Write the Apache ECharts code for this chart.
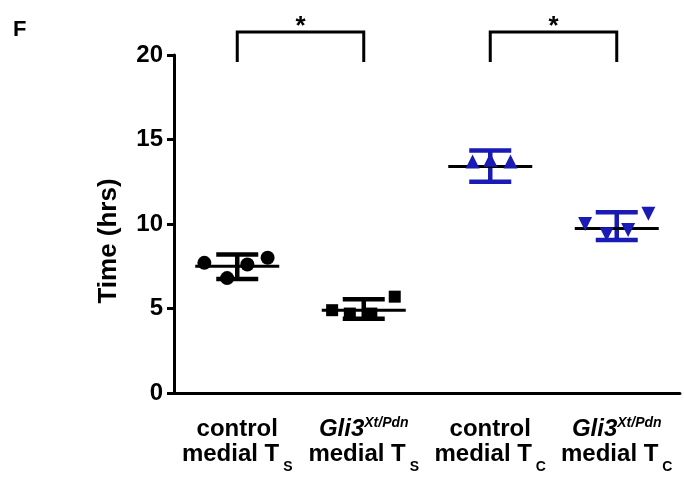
<!DOCTYPE html>
<html>
<head>
<meta charset="utf-8">
<script src="https://cdn.jsdelivr.net/npm/echarts@6/dist/echarts.min.js"></script>
<style>
  html, body { margin: 0; padding: 0; background: #fff; }
  #chart { width: 684px; height: 483px; }
</style>
</head>
<body>
<div id="chart"></div>
<script>
// groups on the x axis
const categories = ['control medial Ts', 'Gli3 medial Ts', 'control medial Tc', 'Gli3 medial Tc'];
const yTicks = [0, 5, 10, 15, 20];

const points = [
  [7.7, 6.8, 7.6, 8.0],
  [4.9, 4.7, 4.7, 5.7],
  [13.7, 13.8, 13.7],
  [10.0, 9.4, 9.65, 10.6]
];
// horizontal scatter of the dots inside each group (fraction of a category)
const jitter = [
  [-0.26, -0.08, 0.08, 0.24],
  [-0.25, -0.11, 0.06, 0.245],
  [-0.14, 0.0, 0.16],
  [-0.25, -0.08, 0.09, 0.25]
];
const means = [7.5, 4.9, 13.4, 9.73];
const errLow = [6.75, 4.4, 12.5, 9.05];
const errHigh = [8.2, 5.55, 14.35, 10.7];
// significance brackets: [from group, to group, label]
const brackets = [[0, 1, '*'], [2, 3, '*']];

const groupColors = ['#000000', '#000000', '#1a1ab4', '#1a1ab4'];
const symbols = ['circle', 'rect', 'triangle', 'triangle'];
const symbolRotate = [0, 0, 0, 180];
const symbolSizes = [14, 12, 14, 14];

const labelText = [
  '{b|control}\n{b|medial T}{sub|S}',
  '{i|Gli3}{sup|Xt/Pdn}\n{b|medial T}{sub|S}',
  '{b|control}\n{b|medial T}{sub|C}',
  '{i|Gli3}{sup|Xt/Pdn}\n{b|medial T}{sub|C}'
];

const font = 'Liberation Sans, Arial, sans-serif';
const chart = echarts.init(document.getElementById('chart'));

const scatterSeries = points.map((vals, g) => ({
  type: 'scatter',
  xAxisIndex: 1,
  symbol: symbols[g],
  symbolRotate: symbolRotate[g],
  symbolSize: symbolSizes[g],
  itemStyle: { color: groupColors[g], opacity: 1 },
  z: 4,
  silent: true,
  data: vals.map((v, k) => [g + jitter[g][k], v])
}));

chart.setOption({
  animation: false,
  grid: { left: 174, right: 4, top: 55, bottom: 90, containLabel: false },
  xAxis: [
    {
      type: 'category',
      data: categories,
      axisLine: { lineStyle: { color: '#000', width: 3 } },
      axisTick: { alignWithLabel: true, length: 9, lineStyle: { color: '#000', width: 3 } },
      axisLabel: {
        interval: 0,
        margin: 24,
        formatter: (v, i) => labelText[i],
        rich: {
          b: { fontFamily: font, fontWeight: 'bold', fontSize: 24, color: '#000', lineHeight: 25 },
          i: { fontFamily: font, fontWeight: 'bold', fontStyle: 'italic', fontSize: 24, color: '#000', lineHeight: 25 },
          sup: { fontFamily: font, fontWeight: 'bold', fontStyle: 'italic', fontSize: 14, color: '#000', lineHeight: 10, padding: [0, 0, 12, 0] },
          sub: { fontFamily: font, fontWeight: 'bold', fontSize: 14, color: '#000', lineHeight: 10, padding: [25, 0, 0, 4] }
        }
      },
      splitLine: { show: false }
    },
    {
      type: 'value',
      min: -0.5,
      max: 3.5,
      show: false
    }
  ],
  yAxis: {
    type: 'value',
    min: 0,
    max: 20,
    interval: 5,
    name: 'Time (hrs)',
    nameLocation: 'middle',
    nameGap: 52,
    nameTextStyle: { fontFamily: font, fontWeight: 'bold', fontSize: 26, color: '#000', padding: [0, 34, 0, 0] },
    axisLine: { show: true, onZero: false, lineStyle: { color: '#000', width: 3 } },
    axisTick: { show: true, length: 7, lineStyle: { color: '#000', width: 3 } },
    axisLabel: {
      margin: 11,
      fontFamily: font, fontWeight: 'bold', fontSize: 24, color: '#000',
      formatter: v => (yTicks.includes(v) ? String(v) : '')
    },
    splitLine: { show: false }
  },
  graphic: [{
    type: 'text', left: 13, top: 19,
    style: { text: 'F', font: 'bold 22px ' + font, fill: '#000' }
  }],
  series: [
    // SD error bars
    {
      type: 'custom',
      xAxisIndex: 1,
      z: 2,
      clip: false,
      silent: true,
      data: means.map((m, g) => [g, m, errLow[g], errHigh[g]]),
      renderItem: (params, api) => {
        const g = params.dataIndex;
        const lo = api.coord([api.value(0), api.value(2)]);
        const hi = api.coord([api.value(0), api.value(3)]);
        const col = groupColors[g];
        const cap = 21;
        const st = { stroke: col, lineWidth: 4.5 };
        return {
          type: 'group',
          children: [
            { type: 'line', shape: { x1: lo[0], y1: lo[1], x2: hi[0], y2: hi[1] }, style: st },
            { type: 'line', shape: { x1: lo[0] - cap, y1: lo[1], x2: lo[0] + cap, y2: lo[1] }, style: st },
            { type: 'line', shape: { x1: hi[0] - cap, y1: hi[1], x2: hi[0] + cap, y2: hi[1] }, style: st }
          ]
        };
      }
    },
    // mean lines
    {
      type: 'custom',
      xAxisIndex: 1,
      z: 3,
      clip: false,
      silent: true,
      data: means.map((m, g) => [g, m]),
      renderItem: (params, api) => {
        const c = api.coord([api.value(0), api.value(1)]);
        return {
          type: 'line',
          shape: { x1: c[0] - 42, y1: c[1], x2: c[0] + 42, y2: c[1] },
          style: { stroke: '#000', lineWidth: 3 }
        };
      }
    },
    ...scatterSeries,
    // significance brackets above the plot
    {
      type: 'custom',
      xAxisIndex: 1,
      z: 5,
      clip: false,
      silent: true,
      data: brackets.map(b => [b[0], b[1]]),
      renderItem: (params, api) => {
        const a = api.coord([api.value(0), 20]);
        const b = api.coord([api.value(1), 20]);
        const top = a[1] - 23;
        const bottom = a[1] + 7;
        const st = { stroke: '#000', lineWidth: 3, fill: null };
        return {
          type: 'group',
          children: [
            { type: 'polyline', shape: { points: [[a[0], bottom], [a[0], top], [b[0], top], [b[0], bottom]] }, style: st },
            {
              type: 'text',
              style: {
                text: brackets[params.dataIndex][2],
                x: (a[0] + b[0]) / 2, y: top - 5,
                align: 'center', verticalAlign: 'middle',
                font: 'bold 26px ' + font, fill: '#000'
              }
            }
          ]
        };
      }
    }
  ]
});
</script>
</body>
</html>
